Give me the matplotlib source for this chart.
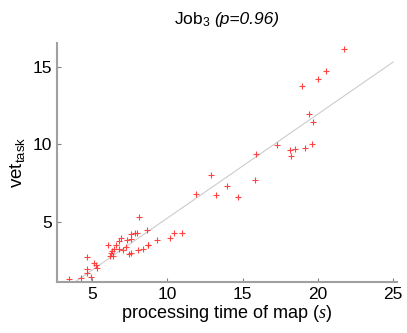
import numpy as np
import matplotlib
matplotlib.use('Agg')
import matplotlib.pyplot as plt

# processing time of map (s) and vet_task
proc_time = [3.49, 4.25, 4.91, 4.69, 4.69, 4.69, 5.15, 5.27, 5.33, 6.08,
             6.28, 6.35, 6.21, 6.41, 6.46, 6.61, 6.79, 6.81, 6.94, 7.08,
             7.24, 7.30, 7.44, 7.61, 7.61, 7.61, 7.83, 7.97, 8.14, 8.03,
             8.38, 8.63, 8.72, 8.74, 9.33, 10.18, 10.44, 10.97,
             11.90, 12.88, 13.23, 13.98, 14.73, 15.84, 15.90, 17.26, 18.14,
             18.21, 18.49, 19.15, 19.62, 19.40, 19.69, 18.92, 20.02, 20.56, 21.72]
vet_task = [1.25, 1.36, 1.40, 1.66, 1.92, 2.72, 2.31, 2.18, 1.96, 3.51,
            2.97, 3.08, 2.80, 2.76, 3.21, 3.51, 3.23, 3.75, 3.94, 3.17,
            3.38, 3.82, 2.91, 2.99, 3.88, 4.20, 4.25, 4.25, 5.28, 3.15,
            3.23, 4.46, 3.51, 3.45, 3.83, 3.96, 4.29, 4.25,
            6.77, 8.00, 6.71, 7.29, 6.58, 7.68, 9.38, 9.93, 9.64,
            9.23, 9.69, 9.74, 10.00, 11.95, 11.47, 13.76, 14.22, 14.73, 16.18]

# fitted line
fit_slope = 0.674
fit_intercept = -1.52
fit_x = [2.5, 25.0]

x_ticks = [5, 10, 15, 20, 25]
y_ticks = [5, 10, 15]

plt.rcParams['font.family'] = ['Liberation Sans', 'DejaVu Sans']
plt.rcParams['mathtext.fontset'] = 'custom'
plt.rcParams['mathtext.rm'] = 'Liberation Sans'
plt.rcParams['mathtext.it'] = 'Liberation Sans:italic'
plt.rcParams['mathtext.sf'] = 'Liberation Serif:italic'

fig = plt.figure(figsize=(4.07, 3.33), dpi=100)
ax = fig.add_axes([0.139, 0.152, 0.836, 0.719])

fx = np.array(fit_x)
ax.plot(fx, fit_slope * fx + fit_intercept, color='#cccccc', linewidth=0.8, zorder=1)
ax.plot(proc_time, vet_task, '+', color='#ff3030', alpha=0.9, markersize=5,
        markeredgewidth=0.8, zorder=2)

ax.set_xlim(2.65, 25.25)
ax.set_ylim(1.06, 16.57)
ax.set_xticks(x_ticks)
ax.set_yticks(y_ticks)

for s in ['top', 'right']:
    ax.spines[s].set_visible(False)
for s in ['left', 'bottom']:
    ax.spines[s].set_color('#a0a0a0')
    ax.spines[s].set_linewidth(1.5)
ax.tick_params(direction='in', length=3, width=0.8, color='#808080', labelsize=12.5, pad=3)

ax.set_xlabel(r'processing time of map ($\mathsf{s}$)', fontsize=13, labelpad=1)
ax.set_ylabel(r'vet$_{\mathrm{task}}$', fontsize=13.5, labelpad=4)

# title: "Job_3" upright, "(p=0.96)" italic, centred over the axes
title_y = 1 - 24 / 333
gap = 4 / 407
t1 = fig.text(0, title_y, r'Job$_3$', fontsize=12.5, va='baseline')
t2 = fig.text(0, title_y, '(p=0.96)', fontsize=12.5, style='italic', va='baseline')
r = fig.canvas.get_renderer()
w1 = t1.get_window_extent(r).width / fig.bbox.width
w2 = t2.get_window_extent(r).width / fig.bbox.width
cx = 0.139 + 0.836 / 2
x0 = cx - (w1 + gap + w2) / 2
t1.set_x(x0)
t2.set_x(x0 + w1 + gap)

fig.savefig('out.png', dpi=100)
